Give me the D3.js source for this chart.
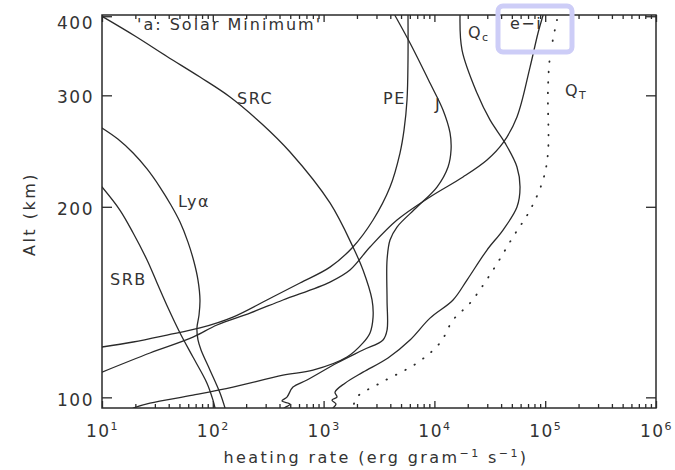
<!DOCTYPE html>
<html><head><meta charset="utf-8">
<script src="https://cdn.jsdelivr.net/npm/d3@7"></script>
<style>
html,body{margin:0;padding:0;background:#fff;}
svg{display:block;font-family:"DejaVu Sans",sans-serif;}
</style></head>
<body><svg id="c" width="675" height="470"></svg>
<script>
// ---- data (heating rate in erg gram^-1 s^-1, altitude in km) ----
const xTickValues = [1e1, 1e2, 1e3, 1e4, 1e5, 1e6];
const xTickExponents = ["1", "2", "3", "4", "5", "6"];
const yTickValues = [100, 200, 300, 400];

const srbRate = [10, 14.5, 19.1, 25.5, 31.4, 39.5, 50.6, 66.2, 88.6, 100.4, 104.7];
const srbAlt  = [214.9, 197.6, 181.8, 164.8, 151.6, 138.4, 126.4, 115.8, 105.3, 99.0, 96.2];

const lyaRate = [10, 13.9, 19.1, 25.5, 33.3, 41.9, 50.6, 59.7, 67.7, 73.5, 76.6, 75.1, 71.9, 73.5, 78.3, 94.4, 116.2, 128.9];
const lyaAlt  = [266.4, 255.9, 243.2, 229.5, 214.9, 201.3, 189.2, 175.9, 163.6, 153.2, 142.5, 134.9, 128.7, 123.2, 118.8, 110.4, 101.6, 96.2];

const srcRate = [10.2, 19.85, 38.6, 76.6, 143, 278, 498, 1142, 1841, 2268, 2737, 2795, 2623, 2268, 1626, 802, 430, 152, 66.2, 27.1, 19.1];
const srcAlt  = [399, 372.2, 345.5, 320.6, 298.2, 270.3, 244.1, 202.8, 172.8, 158.9, 142.5, 133.9, 126.4, 121.9, 115.8, 110.4, 108.4, 103.8, 100.8, 97.9, 96.2];

const peRate = [5777, 5777, 5660, 5322, 4892, 3976, 2795, 1841, 1142, 612, 308, 152, 76.6, 38.6, 19.1, 10];
const peAlt  = [401, 341.1, 294.9, 264.5, 243.2, 214.9, 190.6, 172.8, 160.6, 151.6, 142.5, 133.9, 128.7, 125.4, 122.3, 120.1];

const jRate = [4409, 6023, 9127, 11960, 13840, 14130, 13280, 10550, 6966, 4596, 3976, 3738, 3738, 3738, 3438, 2268, 1322, 708, 529, 467, 421, 498, 439];
const jAlt  = [401, 362.8, 313.7, 284.4, 261.6, 245.9, 231.2, 214.9, 199.8, 185.8, 177.2, 164.8, 142.5, 127.7, 123.2, 118.8, 113.3, 106.5, 103.8, 100.1, 98.7, 97.6, 96.2];

const qcRate = [17030, 17760, 24230, 31760, 43380, 55620, 59270, 55620, 41610, 29830, 19680, 14730, 9127, 6023, 3814, 2268, 1560, 1268, 1322, 1191, 1295, 1216];
const qcAlt  = [401, 353.7, 302.5, 274.3, 252.3, 231.2, 214.9, 199.8, 183.8, 170.9, 153.2, 142.5, 133.4, 123.2, 115.4, 109.6, 105.3, 101.9, 100.1, 99.0, 97.6, 96.2];

const eiRate = [95520, 86140, 72980, 55620, 41610, 29830, 18130, 9127, 4596, 2623, 1730, 1142, 430, 216.6, 109.1, 66.2, 27.1, 10];
const eiAlt  = [401, 376.3, 332.5, 277.3, 252.3, 237.1, 222.9, 207.3, 190.6, 172.8, 158.9, 152.1, 142.5, 135.9, 130.1, 124.5, 117.5, 109.6];

const qtRate = [127700, 110400, 105900, 105900, 95520, 72980, 51220, 33830, 20960, 14730, 11240, 6966, 3230, 2001, 1841];
const qtAlt  = [394.6, 344.8, 305.8, 243.2, 220.4, 197.6, 179.2, 158.9, 140.9, 132.5, 121.9, 113.3, 105.3, 100.1, 96.2];

const seriesList = [
  {name: "SRB", rate: srbRate, alt: srbAlt, dotted: false},
  {name: "Lyα", rate: lyaRate, alt: lyaAlt, dotted: false},
  {name: "SRC", rate: srcRate, alt: srcAlt, dotted: false},
  {name: "PE", rate: peRate, alt: peAlt, dotted: false},
  {name: "J", rate: jRate, alt: jAlt, dotted: false},
  {name: "Qc", rate: qcRate, alt: qcAlt, dotted: false},
  {name: "e−i", rate: eiRate, alt: eiAlt, dotted: false},
  {name: "QT", rate: qtRate, alt: qtAlt, dotted: true}
];

// ---- layout ----
const L = 102, R = 656, T = 15, B = 408;
const svg = d3.select("#c");
const x = d3.scaleLog().domain([10, 1e6]).range([L, R]);
const y = d3.scaleLog().domain([96.2, 401.8]).range([B, T]);
const ink = "#2a2a2a";

svg.append("defs").append("clipPath").attr("id", "clip")
  .append("rect").attr("x", L).attr("y", T).attr("width", R - L).attr("height", B - T);

// curves
const line = d3.line().x(d => x(d[0])).y(d => y(d[1])).curve(d3.curveCatmullRom.alpha(0.5));
const gLines = svg.append("g").attr("clip-path", "url(#clip)");
seriesList.forEach(s => {
  const pts = s.rate.map((r, i) => [r, s.alt[i]]);
  gLines.append("path").datum(pts)
    .attr("d", line)
    .attr("fill", "none")
    .attr("stroke", ink)
    .attr("stroke-width", s.dotted ? 1.8 : 1.3)
    .attr("stroke-linecap", "round")
    .attr("stroke-dasharray", s.dotted ? "0.5,10" : null);
});

// minor tick values
const minor = [];
for (let e = 1; e < 6; e++) for (let m = 2; m <= 9; m++) minor.push(m * Math.pow(10, e));

function clean(g) {
  g.attr("font-size", null).attr("font-family", null);
  g.select(".domain").remove();
  g.selectAll(".tick line").attr("stroke", ink).attr("stroke-width", 1.3);
}

// bottom axis
const gb = svg.append("g").attr("transform", `translate(0,${B})`)
  .call(d3.axisBottom(x).tickValues(xTickValues).tickSize(-7).tickPadding(24).tickFormat(() => ""));
clean(gb);
gb.selectAll(".tick text").each(function(d, i) {
  const t = d3.select(this).attr("fill", "#333").attr("font-size", 17)
    .attr("text-anchor", "middle").attr("dy", "0.32em").style("letter-spacing", "1.5px");
  t.append("tspan").text("10");
  t.append("tspan").attr("font-size", 11).attr("dy", "-0.7em").text(xTickExponents[i]);
});
const gbm = svg.append("g").attr("transform", `translate(0,${B})`)
  .call(d3.axisBottom(x).tickValues(minor).tickSize(-4).tickFormat(() => ""));
clean(gbm);

// top axis
const gt = svg.append("g").attr("transform", `translate(0,${T})`)
  .call(d3.axisTop(x).tickValues(xTickValues).tickSize(-7).tickFormat(() => ""));
clean(gt);
const gtm = svg.append("g").attr("transform", `translate(0,${T})`)
  .call(d3.axisTop(x).tickValues(minor).tickSize(-4).tickFormat(() => ""));
clean(gtm);

// left axis
const gl = svg.append("g").attr("transform", `translate(${L},0)`)
  .call(d3.axisLeft(y).tickValues(yTickValues).tickSize(-10).tickPadding(8).tickFormat(d3.format("d")));
clean(gl);
gl.selectAll(".tick text").attr("fill", "#333").attr("font-size", 17).style("letter-spacing", "1.5px")
  .attr("dy", d => d === 400 ? "0.75em" : "0.45em");

// right axis
const gr = svg.append("g").attr("transform", `translate(${R},0)`)
  .call(d3.axisRight(y).tickValues(yTickValues).tickSize(-10).tickFormat(() => ""));
clean(gr);

// frame
svg.append("rect").attr("x", L).attr("y", T).attr("width", R - L).attr("height", B - T)
  .attr("fill", "none").attr("stroke", ink).attr("stroke-width", 1.5);

// axis titles
svg.append("text").attr("x", 376).attr("y", 463).attr("text-anchor", "middle")
  .attr("font-size", 16).attr("fill", "#333").style("letter-spacing", "2.4px")
  .call(t => {
    t.append("tspan").text("heating rate (erg gram");
    t.append("tspan").attr("font-size", 11).attr("dy", -6).text("−1");
    t.append("tspan").attr("dy", 6).text(" s");
    t.append("tspan").attr("font-size", 11).attr("dy", -6).text("−1");
    t.append("tspan").attr("dy", 6).text(")");
  });
svg.append("text").attr("transform", "translate(35,214) rotate(-90)").attr("text-anchor", "middle")
  .attr("font-size", 16).attr("fill", "#333").style("letter-spacing", "2.5px").text("Alt (km)");

// title
svg.append("text").attr("x", 137).attr("y", 30).attr("font-size", 16).attr("fill", "#333")
  .style("letter-spacing", "2px").text("'a: Solar Minimum'");

// curve labels
function lab(txt, px, py, sub) {
  const t = svg.append("text").attr("x", px).attr("y", py).attr("font-size", 16)
    .attr("fill", "#333").style("letter-spacing", "1.5px");
  t.append("tspan").text(txt);
  if (sub) t.append("tspan").attr("font-size", 11).attr("dy", 3).text(sub);
}
lab("SRC", 237, 104);
lab("PE", 383, 104);
lab("J", 435, 110);
lab("Q", 468, 38, "c");
lab("e−i", 510, 29);
lab("Q", 565, 96, "T");
lab("Lyα", 178, 207);
lab("SRB", 110, 285);

// highlight box
svg.append("rect").attr("x", 498).attr("y", 6).attr("width", 74).attr("height", 46).attr("rx", 5)
  .attr("fill", "none").attr("stroke", "#cdcdf7").attr("stroke-width", 5);
</script></body></html>
